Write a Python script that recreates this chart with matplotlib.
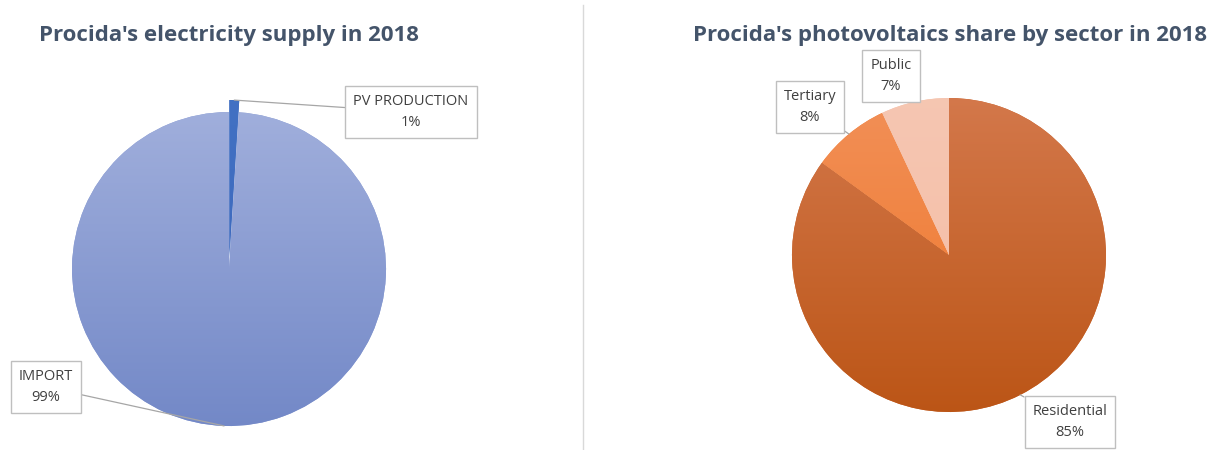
import matplotlib.pyplot as plt
import numpy as np
from matplotlib.colors import LinearSegmentedColormap

# data
supply_labels = ['PV PRODUCTION', 'IMPORT']
supply_values = [1, 99]
sector_labels = ['Residential', 'Tertiary', 'Public']
sector_values = [85, 8, 7]

H = 450
fig = plt.figure(figsize=(12.25, 4.5), dpi=100)
ax = fig.add_axes([0, 0, 1, 1])
ax.set_xlim(0, 1225)
ax.set_ylim(0, H)
ax.set_aspect('equal')
ax.axis('off')

title_kw = dict(fontsize=16, fontweight='bold', color='#44546A',
                family='Open Sans', ha='center', va='center')
label_kw = dict(fontsize=10.5, color='#404040', family='Open Sans',
                ha='center', va='center', linespacing=1.5)
box = dict(boxstyle='square,pad=0.55', fc='white', ec='#BFBFBF', lw=1)
arrow = dict(arrowstyle='-', color='#A6A6A6', lw=0.9, shrinkA=0, shrinkB=0)


def grad_fill(wedge, c_top, c_bot, cx, cy, r):
    cmap = LinearSegmentedColormap.from_list('g', [c_bot, c_top])
    g = np.linspace(0, 1, 256).reshape(-1, 1)
    im = ax.imshow(g, cmap=cmap, origin='lower', aspect='auto',
                   extent=(cx - r - 20, cx + r + 20, cy - r - 20, cy + r + 20),
                   zorder=2)
    im.set_clip_path(wedge)


def label(wedge, txt, box_xy, r):
    ang = np.deg2rad((wedge.theta1 + wedge.theta2) / 2)
    ox, oy = wedge.center
    x = ox + r * np.cos(ang)
    y = oy + r * np.sin(ang)
    ax.annotate(txt, xy=(x, y), xytext=(box_xy[0], H - box_xy[1]),
                bbox=box, arrowprops=arrow, zorder=5, **label_kw)


# left pie (PV slice pulled out a little)
cx1, cy1, r1 = 229, H - 269, 157
w1, _ = ax.pie(supply_values, startangle=90, counterclock=False,
               center=(cx1, cy1), radius=r1, explode=[12, 0],
               colors=['#3F6AC0', '#8A9DD4'], frame=True)
grad_fill(w1[0], '#4272C4', '#3A62B8', cx1, cy1 + 12, r1)
grad_fill(w1[1], '#A3B1DD', '#7086C6', cx1, cy1, r1)
label(w1[0], 'PV PRODUCTION\n1%', (411, 112), r1)
label(w1[1], 'IMPORT\n99%', (46, 387), r1)

# right pie
cx2, cy2, r2 = 949, H - 255, 157
w2, _ = ax.pie(sector_values, startangle=90, counterclock=False,
               center=(cx2, cy2), radius=r2,
               colors=['#C9652E', '#F0853E', '#F5C2AC'], frame=True)
grad_fill(w2[0], '#D57A4E', '#BA5313', cx2, cy2, r2)
grad_fill(w2[1], '#F2915A', '#EE7425', cx2, cy2, r2)
grad_fill(w2[2], '#F6C7B3', '#F4BBA2', cx2, cy2, r2)
label(w2[0], 'Residential\n85%', (1070, 422), r2)
label(w2[1], 'Tertiary\n8%', (810, 107), r2)
label(w2[2], 'Public\n7%', (891, 76), r2)

ax.set_xlim(0, 1225)
ax.set_ylim(0, H)
ax.axis('off')

ax.text(229, H - 35, "Procida's electricity supply in 2018", **title_kw)
ax.text(950, H - 35, "Procida's photovoltaics share by sector in 2018", **title_kw)
ax.plot([583, 583], [0, H - 5], color='#D9D9D9', lw=1)

fig.savefig('out.png', dpi=100)
